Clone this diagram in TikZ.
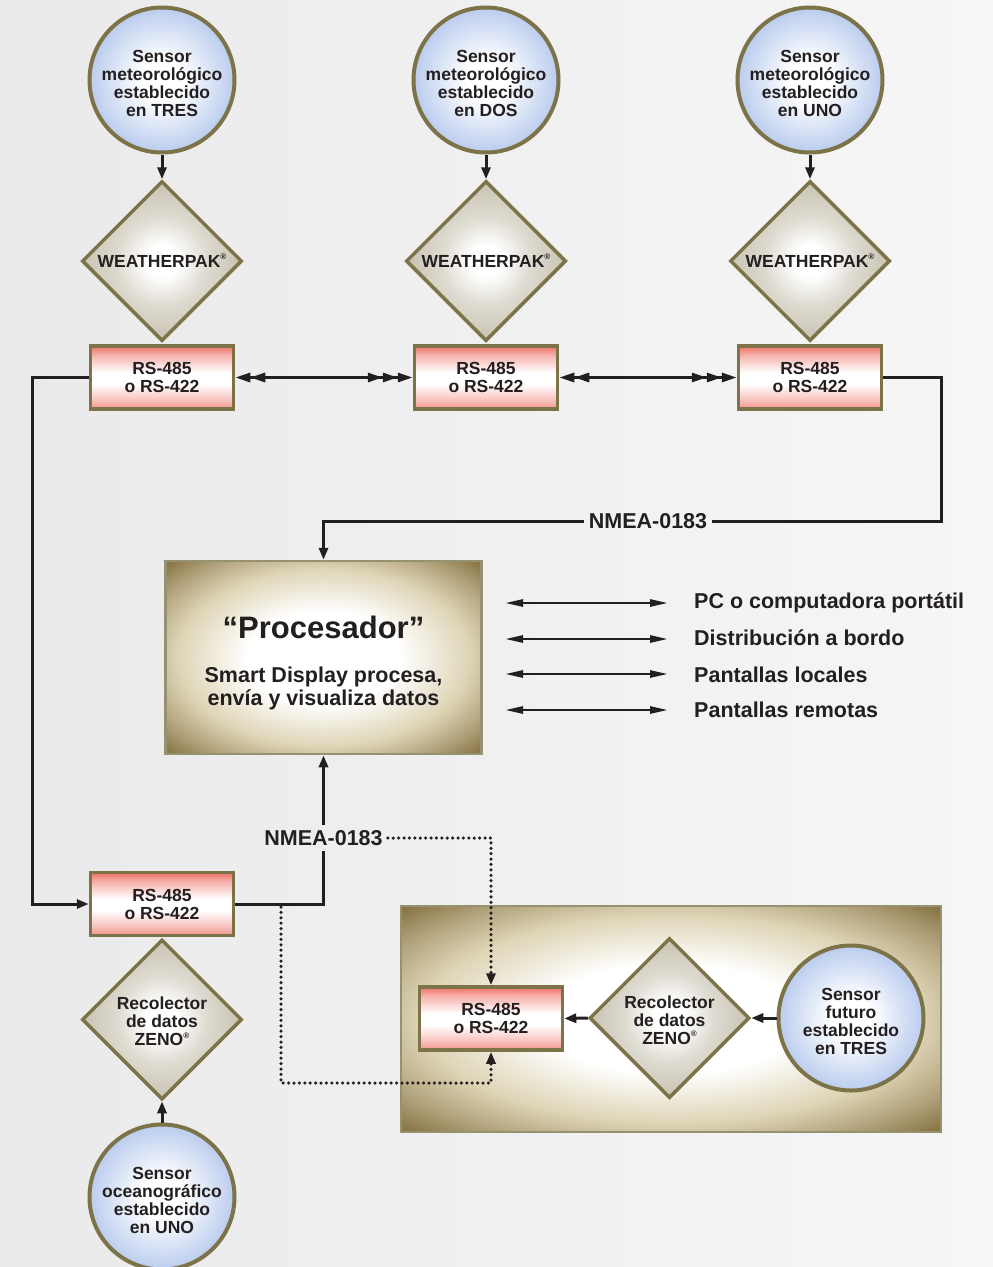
\documentclass[tikz,border=0pt]{standalone}
\usepackage{fontspec}
\setmainfont{Liberation Sans}
\usetikzlibrary{arrows.meta,shapes.geometric,calc}

\definecolor{olv}{RGB}{125,115,72}
\definecolor{olvl}{RGB}{150,145,110}
\definecolor{bluee}{RGB}{186,204,238}
\definecolor{pinke}{RGB}{238,112,102}
\definecolor{diae}{RGB}{200,195,178}
\definecolor{tane}{RGB}{140,118,62}
\definecolor{tanl}{RGB}{222,213,182}
\definecolor{bgl}{RGB}{234,234,234}
\definecolor{bgr}{RGB}{246,246,246}
\definecolor{txt}{RGB}{35,31,32}

\pgfdeclareradialshading{circsh}{\pgfpoint{0bp}{0bp}}{color(0bp)=(white); color(7bp)=(white); color(25bp)=(bluee); color(50bp)=(bluee)}
\pgfdeclareradialshading{diash}{\pgfpoint{0bp}{0bp}}{color(0bp)=(white); color(5bp)=(white); color(14bp)=(diae!60!white); color(25bp)=(diae); color(50bp)=(diae)}
\pgfdeclareverticalshading{rssh}{100bp}{color(0bp)=(pinke!75!white); color(25bp)=(pinke!75!white); color(33bp)=(pinke!40!white); color(45bp)=(white); color(54bp)=(white); color(68bp)=(pinke!55!white); color(75bp)=(pinke); color(100bp)=(pinke)}
\pgfdeclareradialshading{procsh}{\pgfpoint{0bp}{0bp}}{color(0bp)=(white); color(12bp)=(white); color(23bp)=(tanl); color(30bp)=(tane!70!white); color(36bp)=(tane!90!black); color(50bp)=(tane!90!black)}

\newcommand\reg{\raisebox{0.45em}{\fontsize{8}{8}\selectfont ®}}
\newcommand\up{\rule{0pt}{20pt}}

\begin{document}
\begin{tikzpicture}[x=1pt,y=-1pt,
  nf/.style={font={\fontsize{17.5}{18}\selectfont\bfseries}, text=txt},
  bf/.style={font={\fontsize{21.5}{23}\selectfont\bfseries}, text=txt},
  sensor/.style={nf, circle, draw=olv, line width=4pt, shade, shading=circsh,
    minimum size=145pt, inner sep=0pt, align=center},
  diam/.style={nf, diamond, aspect=1, draw=olv, line width=3.5pt, shade, shading=diash,
    minimum width=160pt, minimum height=160pt, inner sep=0pt, align=center},
  rsbox/.style={nf, rectangle, draw=olv, line width=3.5pt, shade, shading=rssh,
    minimum width=143pt, minimum height=63pt, inner sep=0pt, align=center},
  procbox/.style={rectangle, draw=olvl, line width=2.5pt, shade, shading=procsh, inner sep=0pt},
  con/.style={line width=3pt, draw=txt},
  tip/.style={-{Triangle[length=12pt,width=9pt]}},
  dbl/.style={{Triangle[length=15pt,width=9pt,sep=0pt]Triangle[length=15pt,width=9pt]}-{Triangle[length=15pt,width=9pt,sep=0pt]Triangle[length=15pt,width=9pt,sep=0pt]Triangle[length=15pt,width=9pt]}},
  lst/.style={line width=2.6pt, draw=txt, {Triangle[length=18pt,width=7pt]}-{Triangle[length=18pt,width=7pt]}},
  dots/.style={line width=3.5pt, draw=txt, dash pattern=on 0pt off 5.4pt, line cap=round},
  lbl/.style={bf, anchor=base west, inner sep=0pt}
]
\useasboundingbox (0,0) rectangle (993,1267);
\shade[left color=bgl, right color=bgr] (0,0) rectangle (993,1267);

% group box (lower right)
\node[procbox, minimum width=540pt, minimum height=226pt] (grp) at (671,1019) {};

% top sensors
\node[sensor] (c1) at (162,80) {\up Sensor\\meteorológico\\establecido\\en TRES};
\node[sensor] (c2) at (486,80) {\up Sensor\\meteorológico\\establecido\\en DOS};
\node[sensor] (c3) at (810,80) {\up Sensor\\meteorológico\\establecido\\en UNO};

\node[diam] (d1) at (162,261) {WEATHERPAK\reg};
\node[diam] (d2) at (486,261) {WEATHERPAK\reg};
\node[diam] (d3) at (810,261) {WEATHERPAK\reg};

\node[rsbox] (r1) at (162,377.5) {RS-485\\o RS-422};
\node[rsbox] (r2) at (486,377.5) {RS-485\\o RS-422};
\node[rsbox] (r3) at (810,377.5) {RS-485\\o RS-422};

% processor
\node[procbox, minimum width=316pt, minimum height=193pt] (proc) at (323.5,657.5) {};
\node[text=txt, font={\fontsize{31}{31}\selectfont\bfseries}] (pt) at (323.5,627) {“Procesador”};
\node[bf, align=center] (ps) at (323.5,688) {Smart Display procesa,\\envía y visualiza datos};

% labels
\node[bf, inner sep=5pt] (nm1) at (648,521) {NMEA-0183};
\node[bf, inner sep=5pt] (nm2) at (323.5,838) {NMEA-0183};

% lower left
\node[rsbox] (r4) at (162,904) {RS-485\\o RS-422};
\node[diam] (z1) at (162,1019.5) {\rule{0pt}{17pt}Recolector\\de datos\\ZENO\reg};
\node[sensor] (c4) at (162,1197) {\up Sensor\\oceanográfico\\establecido\\en UNO};

% lower right
\node[rsbox] (r5) at (491,1018.5) {RS-485\\o RS-422};
\node[diam] (z2) at (669.5,1018) {\rule{0pt}{17pt}Recolector\\de datos\\ZENO\reg};
\node[sensor] (c5) at (851,1018) {\up Sensor\\futuro\\establecido\\en TRES};

% connectors top
\draw[con,tip] (c1.south) -- (d1.north);
\draw[con,tip] (c2.south) -- (d2.north);
\draw[con,tip] (c3.south) -- (d3.north);
\draw[con,dbl] (r1.east) -- (r2.west);
\draw[con,dbl] (r2.east) -- (r3.west);

\draw[con] (r3.east) -| (941,521) -- (nm1.east);
\draw[con,tip] (nm1.west) -| (proc.north);
\draw[con,tip] (r1.west) -- (32,377.5) |- (r4.west);

\draw[con] (r4.east) -| (nm2.south);
\draw[con,tip] (nm2.north) -- (proc.south);

\coordinate (dd) at (281,907);
\draw[dots,tip] (nm2.east) -| (r5.north);
\draw[dots,tip] (dd) -- (281,1083) -| (r5.south);

\draw[con,tip] (c4.north) -- (z1.south);
\draw[con,tip] (c5.west) -- (z2.east);
\draw[con,tip] (z2.west) -- (r5.east);

% list
\foreach \i/\y in {1/603,2/639,3/674,4/710}{
  \coordinate (la\i) at (505,\y);
  \coordinate (lb\i) at (668,\y);
  \draw[lst] (la\i) -- (lb\i);
}
\node[lbl] (l1) at (694,608) {PC o computadora portátil};
\node[lbl] (l2) at (694,645) {Distribución a bordo};
\node[lbl] (l3) at (694,682) {Pantallas locales};
\node[lbl] (l4) at (694,717) {Pantallas remotas};
\end{tikzpicture}
\end{document}
